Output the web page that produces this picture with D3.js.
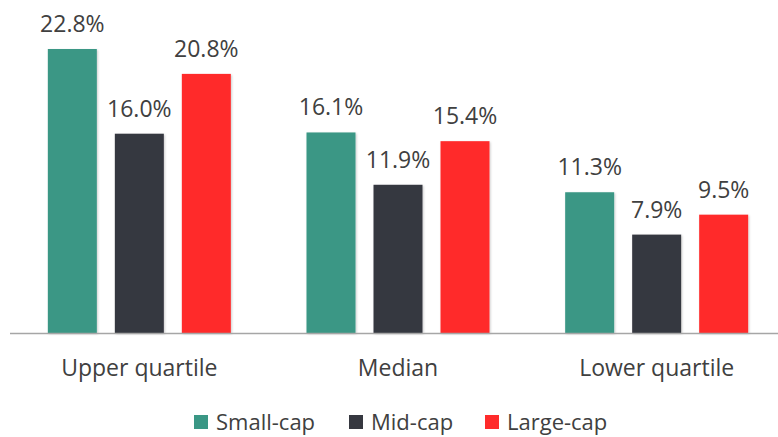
<!DOCTYPE html>
<html>
<head>
<meta charset="utf-8">
<script src="https://cdn.jsdelivr.net/npm/d3@7"></script>
<style>
  body { margin: 0; background: #fff; }
  text { font-family: 'Open Sans', 'Noto Sans', sans-serif; fill: #404040; }
</style>
</head>
<body>
<script>
// data
let categories = ['Upper quartile', 'Median', 'Lower quartile']
let series = ['Small-cap', 'Mid-cap', 'Large-cap']
let smallCap = [22.8, 16.1, 11.3]
let midCap = [16.0, 11.9, 7.9]
let largeCap = [20.8, 15.4, 9.5]
let colors = ['#3a9785', '#363840', '#ff2b2b']

let width = 778
let height = 437
let base = 333
let fs = '23px'

let rows = categories.map((c, i) => ({
  cat: c,
  vals: [smallCap[i], midCap[i], largeCap[i]]
}))

let svg = d3.select('body').append('svg')
  .attr('width', width)
  .attr('height', height)

// soft shadow like the office chart
let defs = svg.append('defs')
let f = defs.append('filter').attr('id', 'sh').attr('x', '-20%').attr('y', '-20%').attr('width', '140%').attr('height', '140%')
f.append('feDropShadow').attr('dx', 1).attr('dy', 1).attr('stdDeviation', 1).attr('flood-color', '#000').attr('flood-opacity', 0.2)

let x0 = d3.scaleBand().domain(categories).range([10, 786]).paddingInner(0).paddingOuter(0)
let x1 = d3.scaleBand().domain(series).range([0, 49 * 3 + 18 * 2]).paddingInner(18 / 67)
let y = d3.scaleLinear().domain([0, 22.8]).range([base, 49])

let groups = svg.selectAll('g.grp')
  .data(rows)
  .join('g')
  .attr('class', 'grp')
  .attr('transform', d => `translate(${x0(d.cat) + x0.bandwidth() / 2 - x1.range()[1] / 2},0)`)

groups.selectAll('rect')
  .data(d => d.vals.map((v, i) => ({ s: series[i], v: v, i: i })))
  .join('rect')
  .attr('x', d => x1(d.s))
  .attr('width', x1.bandwidth())
  .attr('y', d => y(d.v))
  .attr('height', d => base - y(d.v))
  .attr('fill', d => colors[d.i])
  .attr('filter', 'url(#sh)')

groups.selectAll('text.val')
  .data(d => d.vals.map((v, i) => ({ s: series[i], v: v })))
  .join('text')
  .attr('class', 'val')
  .attr('x', d => x1(d.s) + x1.bandwidth() / 2)
  .attr('y', d => y(d.v) - 17)
  .attr('text-anchor', 'middle')
  .style('font-size', fs)
  .text(d => d.v.toFixed(1) + '%')

// baseline
svg.append('line')
  .attr('x1', 10).attr('x2', width)
  .attr('y1', base + 0.5).attr('y2', base + 0.5)
  .attr('stroke', '#a6a6a6')
  .attr('stroke-width', 1.5)

// category labels
let xAxis = d3.axisBottom(x0).tickSize(0).tickPadding(0)
let ax = svg.append('g').attr('transform', `translate(0,${base})`).call(xAxis)
ax.select('.domain').remove()
ax.selectAll('text')
  .attr('dy', null)
  .attr('y', 43)
  .style('font-size', fs)
  .style('fill', '#404040')

// legend
let legendX = [194, 349, 485]
let lg = svg.selectAll('g.leg')
  .data(series)
  .join('g')
  .attr('class', 'leg')
  .attr('transform', (d, i) => `translate(${legendX[i]},415)`)
lg.append('rect').attr('width', 14).attr('height', 14).attr('fill', (d, i) => colors[i])
lg.append('text')
  .attr('x', 22).attr('y', 15)
  .style('font-size', '22px')
  .text(d => d)
</script>
</body>
</html>
